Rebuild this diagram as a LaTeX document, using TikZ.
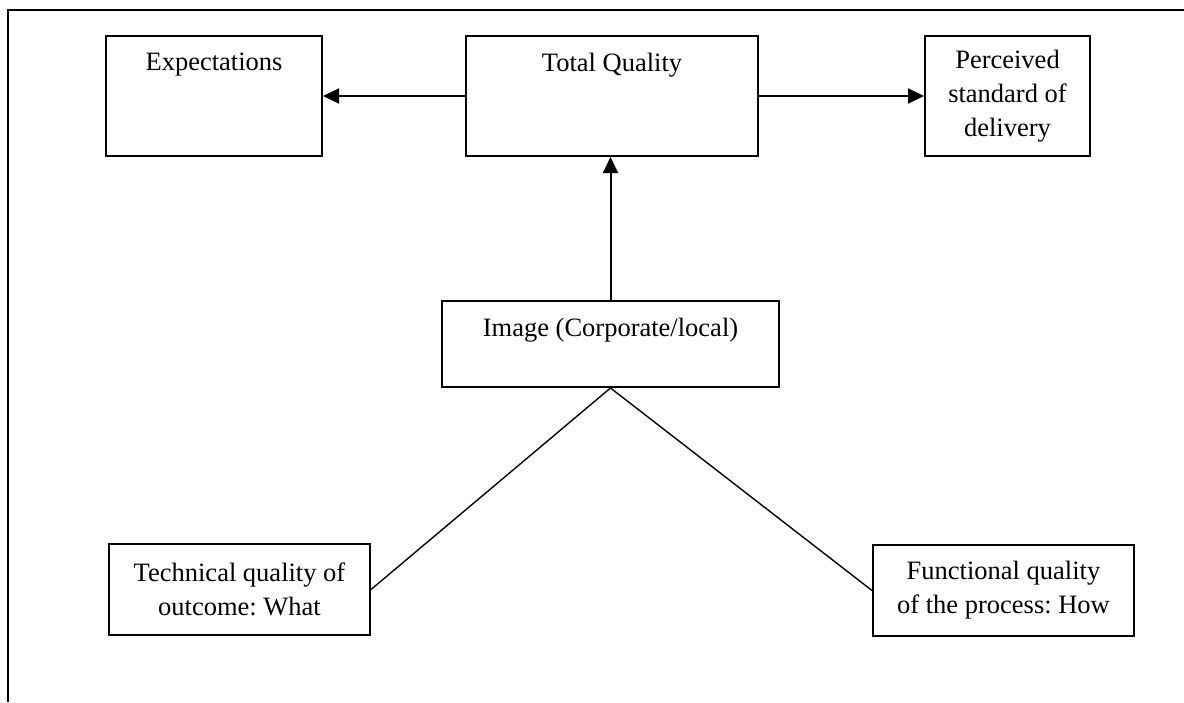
\documentclass[tikz,border=0pt]{standalone}
\usepackage{fontspec}
\setmainfont{Liberation Serif}
\usetikzlibrary{arrows.meta}
\frenchspacing
\tikzset{
  box/.style={draw, line width=2pt, inner sep=0pt, align=center,
    font=\fontsize{26.5}{34}\selectfont},
  arr/.style={line width=2pt, -{Triangle[length=16pt,width=15pt]}},
  link/.style={line width=1.4pt},
  frame/.style={line width=1.4pt}
}
\begin{document}
\begin{tikzpicture}[x=1pt,y=-1pt]
  \useasboundingbox (0,0) rectangle (1184,702);
  % open frame: top and left edges
  \coordinate (fr) at (1184,10);
  \coordinate (fc) at (8,10);
  \coordinate (fb) at (8,702);
  \draw[frame] (fr) -- (fc) -- (fb);

  % top row
  \node[box, minimum width=216pt, minimum height=120pt] (exp) at (214,96)
    {Expectations\\\mbox{}\\\mbox{}};
  \node[box, minimum width=292pt, minimum height=120pt] (tq) at (612,96)
    {Total Quality\\\mbox{}\\\mbox{}};
  \node[box, minimum width=165pt, minimum height=120pt] (per) at (1007.5,96)
    {Perceived\\standard of\\delivery};

  % middle
  \node[box, minimum width=337pt, minimum height=86pt] (img) at (610.5,344)
    {Image (Corporate/local)\\\mbox{}};

  % bottom row
  \node[box, minimum width=261pt, minimum height=91pt] (tech) at (239.5,589.5)
    {Technical quality of\\outcome: What};
  \node[box, minimum width=261pt, minimum height=91pt] (func) at (1003.5,590.5)
    {Functional quality\\of the process: How};

  % connectors
  \draw[arr] (tq.west) -- (exp.east);
  \draw[arr] (tq.east) -- (per.west);
  \draw[arr] (img.north) -- (img.north |- tq.south);
  \draw[link] (img.south) -- (tech.east);
  \draw[link] (img.south) -- (func.west);
\end{tikzpicture}
\end{document}
